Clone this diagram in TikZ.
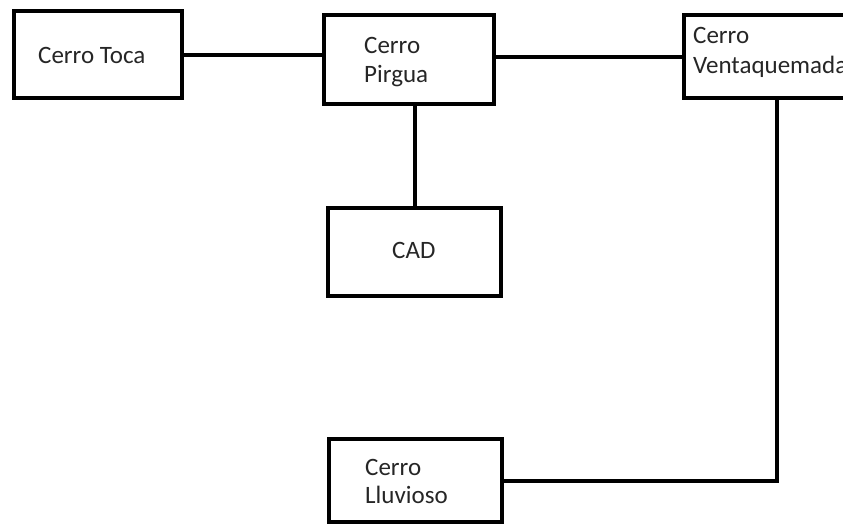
\documentclass[tikz,border=0pt]{standalone}
\usepackage{fontspec}
\setmainfont{Carlito}
\begin{document}
\begin{tikzpicture}[x=1pt,y=-1pt,
  box/.style={draw=black,line width=4pt,rectangle,inner sep=0pt,fill=white},
  lbl/.style={anchor=base west,inner sep=0pt,text=black!85,font=\fontsize{25}{30}\selectfont},
  wire/.style={line width=4pt,draw=black}]
\useasboundingbox (0,0) rectangle (843,525);
\clip (0,0) rectangle (843,525);
\fill[white] (0,0) rectangle (843,525);
% boxes (stroke centre coordinates)
\node[box,minimum width=168pt,minimum height=87pt] (toca) at (98,54.5) {};
\node[box,minimum width=170pt,minimum height=89pt] (pirgua) at (409,59.5) {};
\node[box,minimum width=230pt,minimum height=83pt] (venta) at (799,56.5) {};
\node[box,minimum width=173pt,minimum height=88pt] (cad) at (414.5,252) {};
\node[box,minimum width=173pt,minimum height=83pt] (lluv) at (415.5,480.5) {};
\coordinate (vdrop) at (777,98);
% connectors
\draw[wire] (toca.east) -- (toca.east -| pirgua.west);
\draw[wire] (venta.west) -- (venta.west -| pirgua.east);
\draw[wire] (cad.north) -- (cad.north |- pirgua.south);
\draw[wire] (vdrop) |- (lluv.east);
% labels
\node[lbl] (tTocaA) at (38,63) {Cerro Toca};
\node[lbl] (tPirA) at (364,53) {Cerro};
\node[lbl] (tPirB) at (364,82) {Pirgua};
\node[lbl] (tVenA) at (693,43) {Cerro};
\node[lbl] (tVenB) at (693,73) {Ventaquemada};
\node[lbl] (tCad) at (392,258) {CAD};
\node[lbl] (tLluA) at (365,475) {Cerro};
\node[lbl] (tLluB) at (365,503) {Lluvioso};
\end{tikzpicture}
\end{document}
